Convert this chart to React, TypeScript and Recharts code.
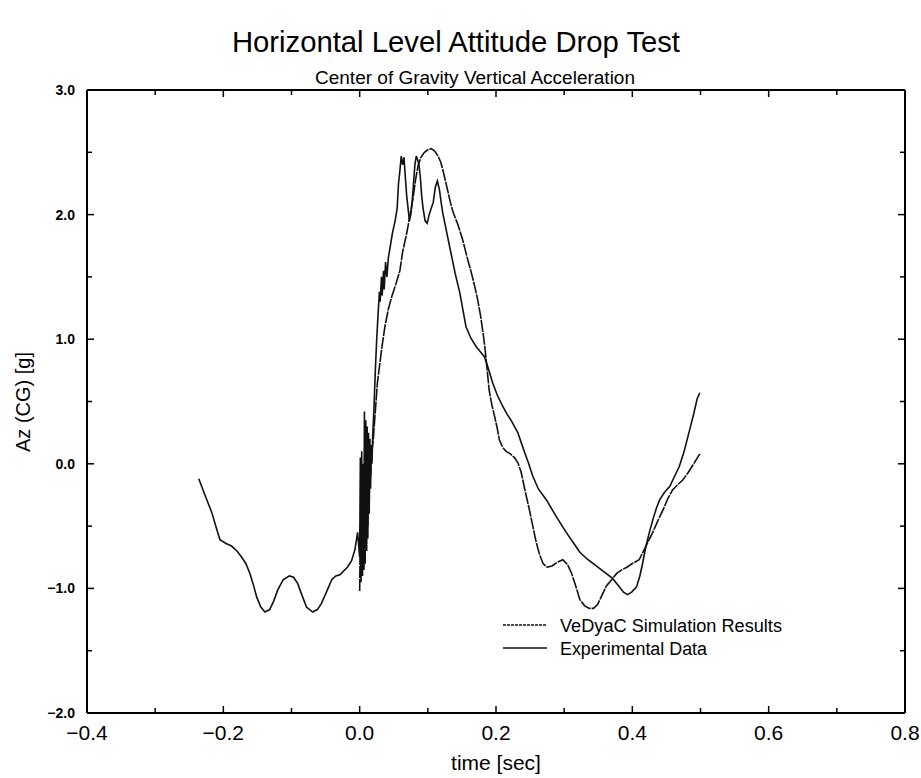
import React from 'react';
import { LineChart, Line, XAxis, YAxis } from 'recharts';

const W = 921;
const H = 778;
const FONT = '"Liberation Sans", Arial, Helvetica, sans-serif';

// tick positions (labels only on the majors)
const xTicks = [-0.4, -0.3, -0.2, -0.1, 0.0, 0.1, 0.2, 0.3, 0.4, 0.5, 0.6, 0.7, 0.8];
const yTicks = [-2.0, -1.5, -1.0, -0.5, 0.0, 0.5, 1.0, 1.5, 2.0, 2.5, 3.0];

const expTime = [
  -0.236, -0.227, -0.217, -0.21, -0.205, -0.196, -0.188, -0.18, -0.173, -0.167, -0.161, -0.156, -0.151,
  -0.145, -0.139, -0.132, -0.126, -0.12, -0.112, -0.103, -0.097, -0.091, -0.085, -0.078, -0.069, -0.062,
  -0.056, -0.048, -0.041, -0.035, -0.029, -0.018, -0.012, -0.007, -0.003,
  0.0, 0.001, 0.002, 0.003, 0.004, 0.005, 0.006, 0.007, 0.008, 0.009, 0.01, 0.011, 0.012, 0.013, 0.014,
  0.015, 0.016, 0.017, 0.018, 0.019,
  0.021, 0.023, 0.025, 0.027, 0.029, 0.03, 0.032, 0.033, 0.035, 0.036, 0.038, 0.04, 0.042, 0.045, 0.048,
  0.052, 0.055, 0.057, 0.059, 0.061, 0.063, 0.065, 0.067, 0.069, 0.071, 0.073, 0.075, 0.077, 0.079, 0.081,
  0.083, 0.085, 0.087, 0.089, 0.091, 0.093, 0.096, 0.099, 0.102, 0.105, 0.108, 0.111, 0.114, 0.117, 0.12,
  0.122, 0.128, 0.134, 0.14, 0.147, 0.152, 0.156, 0.163, 0.171, 0.177, 0.183, 0.189, 0.195, 0.202, 0.21,
  0.216, 0.222, 0.227, 0.232, 0.237, 0.242, 0.248, 0.254, 0.262, 0.274, 0.288, 0.303, 0.313, 0.323, 0.335,
  0.347, 0.359, 0.371, 0.38, 0.387, 0.393, 0.399, 0.406, 0.411, 0.415, 0.42, 0.425, 0.43, 0.435, 0.44,
  0.447, 0.455, 0.462, 0.469, 0.476, 0.484, 0.49, 0.495, 0.499,
];
const expAz = [
  -0.12, -0.25, -0.39, -0.52, -0.61, -0.64, -0.66, -0.7, -0.75, -0.8, -0.88, -0.97, -1.07,
  -1.15, -1.19, -1.17, -1.1, -1.01, -0.93, -0.9, -0.91, -0.96, -1.05, -1.15, -1.19, -1.17,
  -1.12, -1.02, -0.93, -0.9, -0.89, -0.83, -0.78, -0.69, -0.55,
  -0.75, 0.05, -0.85, 0.1, -0.9, 0.0, -0.85, 0.42, -0.8, 0.35, -0.7, 0.3, -0.6, 0.25, -0.4,
  0.2, -0.2, 0.15, 0.0, 0.2,
  0.45, 0.75, 1.0, 1.2, 1.38, 1.3, 1.5, 1.35, 1.55, 1.4, 1.62, 1.5, 1.65, 1.75, 1.85,
  1.95, 2.05, 2.25, 2.35, 2.47, 2.4, 2.46, 2.3, 2.15, 2.05, 1.95, 2.0, 2.1, 2.25, 2.4,
  2.47, 2.44, 2.4, 2.3, 2.15, 2.05, 1.95, 1.93, 2.0, 2.05, 2.1, 2.22, 2.27, 2.2, 2.08,
  2.01, 1.85, 1.69, 1.53, 1.37, 1.22, 1.1, 1.01, 0.94, 0.9, 0.86, 0.76, 0.65, 0.55, 0.46,
  0.4, 0.35, 0.3, 0.25, 0.17, 0.09, 0.0, -0.1, -0.2, -0.29, -0.42, -0.55, -0.63, -0.71, -0.77,
  -0.82, -0.87, -0.92, -0.98, -1.03, -1.05, -1.03, -0.99, -0.9, -0.8, -0.66, -0.55, -0.45, -0.36, -0.29,
  -0.23, -0.18, -0.1, -0.02, 0.1, 0.27, 0.4, 0.52, 0.57,
];

// VeDyaC Simulation Results
const simTime = [
  0.0, 0.001, 0.002, 0.003, 0.004, 0.005, 0.006, 0.007, 0.008, 0.009, 0.01, 0.011, 0.012, 0.013, 0.014,
  0.015, 0.016, 0.017, 0.018, 0.02, 0.022, 0.024, 0.026, 0.029, 0.033, 0.037, 0.042, 0.047, 0.053, 0.059,
  0.063, 0.069, 0.074, 0.078, 0.082, 0.086, 0.09, 0.095, 0.1, 0.105, 0.11, 0.115, 0.119, 0.122, 0.128,
  0.133, 0.137, 0.144, 0.151, 0.157, 0.164, 0.169, 0.173, 0.177, 0.181, 0.184, 0.186, 0.19, 0.194, 0.198,
  0.202, 0.205, 0.21, 0.215, 0.221, 0.227, 0.232, 0.237, 0.242, 0.249, 0.254, 0.259, 0.264, 0.269, 0.275,
  0.282, 0.29, 0.298, 0.305, 0.311, 0.317, 0.323, 0.33, 0.337, 0.343, 0.349, 0.355, 0.362, 0.371, 0.377,
  0.385, 0.392, 0.4, 0.41, 0.42, 0.43, 0.438, 0.445, 0.452, 0.459, 0.466, 0.474, 0.482, 0.49, 0.499,
];
const simAz = [
  -1.02, -0.5, -0.95, -0.3, -0.9, -0.2, -0.85, -0.1, -0.8, 0.05, -0.7, 0.1, -0.5, 0.15, -0.3,
  0.1, -0.1, 0.0, 0.1, 0.2, 0.35, 0.5, 0.65, 0.78, 0.95, 1.1, 1.24, 1.34, 1.44, 1.55,
  1.7, 1.85, 2.0, 2.12, 2.28, 2.4, 2.46, 2.5, 2.52, 2.53, 2.51, 2.47, 2.42, 2.36, 2.22,
  2.1, 2.02, 1.92, 1.8, 1.67, 1.53, 1.42, 1.32, 1.2, 1.05, 0.92, 0.81, 0.59, 0.47, 0.38,
  0.28, 0.19, 0.13, 0.1, 0.08, 0.05, 0.01, -0.07, -0.2, -0.37, -0.5, -0.63, -0.73, -0.8, -0.83,
  -0.82, -0.79, -0.77, -0.81, -0.88, -0.98, -1.09, -1.14, -1.16, -1.16, -1.13, -1.06, -0.98, -0.92, -0.88,
  -0.85, -0.83, -0.8, -0.77, -0.66, -0.55, -0.45, -0.37, -0.28, -0.21, -0.17, -0.13, -0.07, 0.0, 0.08,
];

const expData = expTime.map((t, i) => ({ t, az: expAz[i] }));
const simData = simTime.map((t, i) => ({ t, az: simAz[i] }));

const fmt = (v: number) => (v < 0 ? '\u2212' + Math.abs(v).toFixed(1) : v.toFixed(1));
const isMajorX = (v: number) => Math.round(v * 10) % 2 === 0;
const isMajorY = (v: number) => Math.round(v * 2) % 2 === 0;

const BottomTick = (props: any) => {
  const { x, y, payload } = props;
  const v = payload.value;
  const major = isMajorX(v);
  return (
    <g>
      <line x1={x} y1={y} x2={x} y2={y - (major ? 7 : 5)} stroke="#000" strokeWidth={1.5} />
      {major && (
        <text x={x} y={y + 27} textAnchor="middle" fontSize={21} fontFamily={FONT} fill="#000">
          {fmt(v)}
        </text>
      )}
    </g>
  );
};

const TopTick = (props: any) => {
  const { x, y, payload } = props;
  const major = isMajorX(payload.value);
  return <line x1={x} y1={y} x2={x} y2={y + (major ? 7 : 5)} stroke="#000" strokeWidth={1.5} />;
};

const LeftTick = (props: any) => {
  const { x, y, payload } = props;
  const v = payload.value;
  const major = isMajorY(v);
  return (
    <g>
      <line x1={x} y1={y} x2={x + (major ? 7 : 5)} y2={y} stroke="#000" strokeWidth={1.5} />
      {major && (
        <text x={x - 12} y={y + 5} textAnchor="end" fontSize={14} fontWeight="bold" fontFamily={FONT} fill="#000">
          {fmt(v)}
        </text>
      )}
    </g>
  );
};

const RightTick = (props: any) => {
  const { x, y, payload } = props;
  const major = isMajorY(payload.value);
  return <line x1={x} y1={y} x2={x - (major ? 7 : 5)} y2={y} stroke="#000" strokeWidth={1.5} />;
};

const axisLine = { stroke: '#000', strokeWidth: 2 };

export default function App() {
  return (
    <div style={{ position: 'absolute', left: 0, top: 0, width: W, height: H, background: '#fff' }}>
      <LineChart width={W} height={H} margin={{ top: 89, right: 15, bottom: 35, left: 47 }}>
        <XAxis
          xAxisId="b"
          type="number"
          dataKey="t"
          domain={[-0.4, 0.8]}
          ticks={xTicks}
          interval={0}
          allowDataOverflow
          tick={BottomTick}
          tickLine={false}
          tickSize={0}
          tickMargin={0}
          axisLine={axisLine}
          height={30}
        />
        <XAxis
          xAxisId="top"
          orientation="top"
          type="number"
          dataKey="t"
          domain={[-0.4, 0.8]}
          ticks={xTicks}
          interval={0}
          allowDataOverflow
          tick={TopTick}
          tickLine={false}
          tickSize={0}
          tickMargin={0}
          axisLine={axisLine}
          height={1}
        />
        <YAxis
          yAxisId="l"
          type="number"
          domain={[-2, 3]}
          ticks={yTicks}
          interval={0}
          allowDataOverflow
          tick={LeftTick}
          tickLine={false}
          tickSize={0}
          tickMargin={0}
          axisLine={axisLine}
          width={40}
        />
        <YAxis
          yAxisId="r"
          orientation="right"
          type="number"
          domain={[-2, 3]}
          ticks={yTicks}
          interval={0}
          allowDataOverflow
          tick={RightTick}
          tickLine={false}
          tickSize={0}
          tickMargin={0}
          axisLine={axisLine}
          width={1}
        />
        {/* invisible copy so the mirrored frame axes (top/right) get drawn */}
        <Line
          xAxisId="top"
          yAxisId="r"
          data={expData}
          dataKey="az"
          type="linear"
          dot={false}
          stroke="none"
          strokeOpacity={0}
          legendType="none"
          isAnimationActive={false}
        />
        <Line
          xAxisId="b"
          yAxisId="l"
          data={expData}
          dataKey="az"
          name="Experimental Data"
          type="linear"
          dot={false}
          stroke="#111"
          strokeWidth={1.6}
          isAnimationActive={false}
        />
        <Line
          xAxisId="b"
          yAxisId="l"
          data={simData}
          dataKey="az"
          name="VeDyaC Simulation Results"
          type="linear"
          dot={false}
          stroke="#111"
          strokeWidth={1.6}
          strokeDasharray="12 1"
          isAnimationActive={false}
        />
      </LineChart>
      <svg
        width={W}
        height={H}
        style={{ position: 'absolute', left: 0, top: 0, pointerEvents: 'none' }}
        fontFamily={FONT}
      >
        <text x={456} y={52} textAnchor="middle" fontSize={30} textLength={448} lengthAdjust="spacingAndGlyphs">
          Horizontal Level Attitude Drop Test
        </text>
        <text x={475} y={84} textAnchor="middle" fontSize={18} textLength={320} lengthAdjust="spacingAndGlyphs">
          Center of Gravity Vertical Acceleration
        </text>
        <text x={0} y={0} transform="translate(30 402) rotate(-90)" textAnchor="middle" fontSize={20}>
          Az (CG) [g]
        </text>
        <text x={496} y={770} textAnchor="middle" fontSize={21}>
          time [sec]
        </text>
        {/* legend */}
        <line x1={503} y1={625} x2={547} y2={625} stroke="#111" strokeWidth={1.6} strokeDasharray="3 1" />
        <text x={560} y={632} fontSize={18} textLength={222} lengthAdjust="spacingAndGlyphs">
          VeDyaC Simulation Results
        </text>
        <line x1={503} y1={648} x2={547} y2={648} stroke="#111" strokeWidth={1.6} />
        <text x={560} y={655} fontSize={18} textLength={147} lengthAdjust="spacingAndGlyphs">
          Experimental Data
        </text>
      </svg>
    </div>
  );
}
